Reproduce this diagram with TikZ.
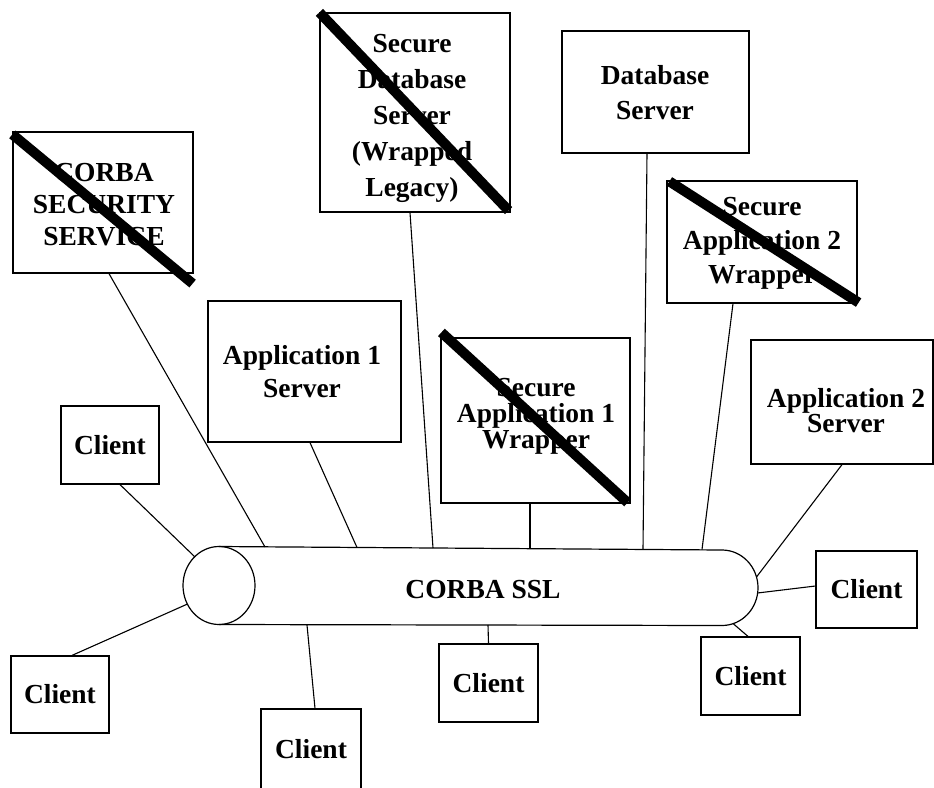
\documentclass[tikz,border=0pt]{standalone}
\usepackage{fontspec}
\setmainfont{Liberation Serif}
\begin{document}
\begin{tikzpicture}[x=1pt,y=-1pt,
  box/.style={draw, line width=1.2pt, inner sep=0pt, align=center},
  lbl/.style={font=\fontsize{27.5}{#1}\selectfont\bfseries, align=center, inner sep=0pt},
  lbl/.default=34,
  client/.style={box, lbl, minimum width=99pt, minimum height=78pt},
  link/.style={line width=1.1pt},
  strike/.style={line width=10pt, line cap=butt},
  bus/.style={line width=1.2pt}]
\useasboundingbox (0,0) rectangle (934,787);

% server and wrapper boxes
\node[box, minimum width=180pt, minimum height=141pt] (sec)  at (103,202.5) {};
\node[box, minimum width=190pt, minimum height=199pt] (sdb)  at (415,112.5) {};
\node[box, minimum width=187pt, minimum height=122pt] (db)   at (655.5,92) {};
\node[box, minimum width=190pt, minimum height=122pt] (sw2)  at (762,242) {};
\node[box, minimum width=193pt, minimum height=141pt] (app1) at (304.5,371.5) {};
\node[box, minimum width=189pt, minimum height=165pt] (sw1)  at (535.5,420.5) {};
\node[box, minimum width=182pt, minimum height=124pt] (app2) at (842,402) {};

% their labels
\node[lbl=32] (sec-t)  at (104,205) {CORBA\\SECURITY\\SERVICE};
\node[lbl=36] (sdb-t)  at (412,118) {Secure\\Database\\Server\\(Wrapped\\Legacy)};
\node[lbl=35] (db-t)   at (655,93) {Database\\Server};
\node[lbl=34] (sw2-t)  at (762,243) {Secure\\Application 2\\Wrapper};
\node[lbl=33] (app1-t) at (302,372) {Application 1\\Server};
\node[lbl=26] (sw1-t)  at (536,416) {Secure\\Application 1\\Wrapper};
\node[lbl=25] (app2-t) at (846,411) {Application 2\\Server};

% clients
\node[client, minimum width=98pt] (cul) at (110,445) {Client};
\node[client, minimum width=98pt, minimum height=77pt] (cll) at (60,694.5) {Client};
\node[client, minimum width=100pt, minimum height=80pt] (cb) at (311,749) {Client};
\node[client] (cm)  at (488.5,683) {Client};
\node[client] (clr) at (750.5,676) {Client};
\node[client, minimum width=101pt, minimum height=77pt] (cr) at (866.5,589.5) {Client};

% the SSL bus drawn as a lying cylinder
\draw[bus] (219,585.5) ellipse [x radius=36, y radius=39];
\draw[bus] (219,546.5) -- (722,550)
  arc[start angle=-90, end angle=90, x radius=36, y radius=37.75] -- (219,624.5);
\node[lbl] (bus) at (483,590) {CORBA SSL};

% attachment points on the bus outline
\coordinate (b-sec)  at (265,547);
\coordinate (b-app1) at (357,547.5);
\coordinate (b-sdb)  at (433,548);
\coordinate (b-sw1)  at (530,548.5);
\coordinate (b-db)   at (643,549);
\coordinate (b-sw2)  at (702,549.5);
\coordinate (b-app2) at (756.5,577);
\coordinate (b-cr)   at (757.5,593);
\coordinate (b-clr)  at (733,623.5);
\coordinate (b-cm)   at (488,625);
\coordinate (b-cb)   at (307,625);
\coordinate (b-cul)  at (195,557);
\coordinate (b-cll)  at (187.5,604);

% links to the bus
\draw[link] ([xshift=6pt]sec.south) -- (b-sec);
\draw[link] ([xshift=-5pt]sdb.south) -- (b-sdb);
\draw[link] ([xshift=-8.5pt]db.south) -- (b-db);
\draw[link] ([xshift=-29pt]sw2.south) -- (b-sw2);
\draw[link] ([xshift=5.5pt]app1.south) -- (b-app1);
\draw[link] ([xshift=-5.5pt]sw1.south) -- (b-sw1);
\draw[link] (app2.south) -- (b-app2);
\draw[link] ([xshift=10pt]cul.south) -- (b-cul);
\draw[link] ([xshift=12pt]cll.north) -- (b-cll);
\draw[link] ([xshift=4pt]cb.north) -- (b-cb);
\draw[link] (cm.north) -- (b-cm);
\draw[link] ([xshift=-2.5pt]clr.north) -- (b-clr);
\draw[link] ([yshift=3.5pt]cr.west) -- (b-cr);

% crossed-out components
\draw[strike] ([yshift=-3pt]sec.north west) -- ([xshift=-1pt,yshift=-10pt]sec.south east);
\draw[strike] (sdb.north west) -- ([xshift=-2pt,yshift=2pt]sdb.south east);
\draw[strike] ([xshift=1pt,yshift=5pt]sw1.north west) -- ([xshift=-3pt,yshift=1pt]sw1.south east);
\draw[strike] ([xshift=3pt,yshift=-1pt]sw2.north west) -- ([xshift=1pt,yshift=1pt]sw2.south east);
\end{tikzpicture}
\end{document}
